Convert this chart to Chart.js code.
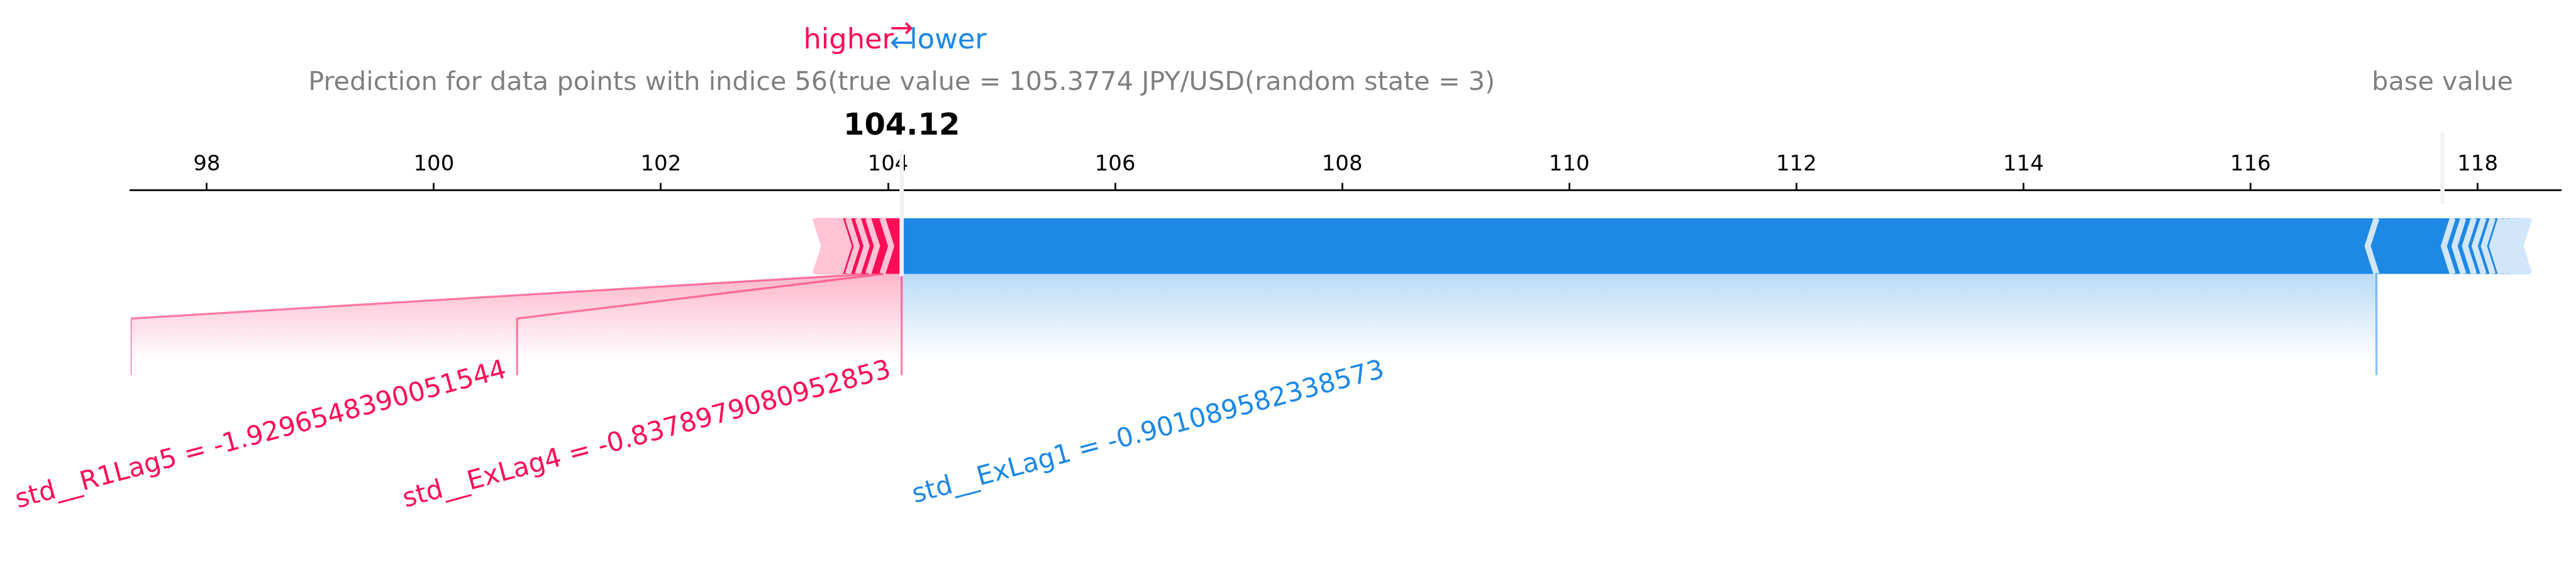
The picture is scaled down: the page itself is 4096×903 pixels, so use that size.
<!DOCTYPE html>
<html>
<head>
<meta charset="utf-8">
<script src="https://cdn.jsdelivr.net/npm/chart.js@4.4.1/dist/chart.umd.min.js"></script>
<style>
  html, body { margin: 0; padding: 0; background: #fff; }
  #wrap { width: 4096px; height: 903px; }
</style>
</head>
<body>
<div id="wrap"><canvas id="forceChart" width="4096" height="903"></canvas></div>
<script>
// model output and base value (JPY/USD)
var outValue = 104.12;
var baseValue = 117.69;

// cumulative bounds of the red (positive) features, going left from the output value
var posBounds = [103.950, 103.825, 103.734, 103.647, 103.576, 103.540, 103.505, 103.469, 103.430, 103.391, 103.359];
// cumulative bounds of the blue (negative) features, going right from the output value
var negBounds = [117.109, 117.780, 117.874, 117.967, 118.052, 118.133, 118.205, 118.256, 118.304, 118.343, 118.383, 118.422, 118.455];

// labelled features and where their guide lines come down
var posLabels = ['std__ExLag4 = -0.8378979080952853', 'std__R1Lag5 = -1.9296548390051544'];
var posLabelEnds = [100.733, 97.33];
var negLabels = ['std__ExLag1 = -0.901089582338573'];
var negLabelEnds = [117.109];

var tickValues = [98, 100, 102, 104, 106, 108, 110, 112, 114, 116, 118];
var xMin = 97.33, xMax = 118.735;

var titleText = 'Prediction for data points with indice 56(true value = 105.3774 JPY/USD(random state = 3)';

var RED = '#FF0D57', RED_LIGHT = '#FFC3D5';
var BLUE = '#1E88E5', BLUE_LIGHT = '#D1E6FA';
var barWidth = 0.1;
var sepIndent = 0.078;
var offsetText = 0.07;
var FONT = '"DejaVu Sans"';

// separators between features
var datasets = [];
negBounds.forEach(function (p) {
  datasets.push({ data: [{x: p, y: 0}, {x: p - sepIndent, y: barWidth / 2}, {x: p, y: barWidth}],
    borderColor: BLUE_LIGHT, borderWidth: 9.5, borderJoinStyle: 'miter', borderCapStyle: 'butt' });
});
posBounds.forEach(function (p) {
  datasets.push({ data: [{x: p, y: 0}, {x: p + sepIndent, y: barWidth / 2}, {x: p, y: barWidth}],
    borderColor: RED_LIGHT, borderWidth: 9.5, borderJoinStyle: 'miter', borderCapStyle: 'butt' });
});

// guide lines to the labels
var lineStyle = { borderWidth: 3.4, borderJoinStyle: 'round', borderCapStyle: 'square' };
datasets.push(Object.assign({ data: [{x: outValue, y: 0}, {x: outValue, y: -0.18}], borderColor: 'rgba(255,13,87,0.5)' }, lineStyle));
posLabels.forEach(function (t, i) {
  datasets.push(Object.assign({ data: [{x: posBounds[i], y: 0}, {x: posLabelEnds[i], y: -0.08}, {x: posLabelEnds[i], y: -0.18}],
    borderColor: 'rgba(255,13,87,0.5)' }, lineStyle));
});
negLabels.forEach(function (t, i) {
  datasets.push(Object.assign({ data: [{x: negBounds[i], y: 0}, {x: negLabelEnds[i], y: -0.08}, {x: negLabelEnds[i], y: -0.18}],
    borderColor: 'rgba(30,136,229,0.5)' }, lineStyle));
});

// base value and output value markers
datasets.push({ data: [{x: baseValue, y: 0.13}, {x: baseValue, y: 0.25}], borderColor: '#F2F2F2', borderWidth: 6.8, borderCapStyle: 'square', clip: false });
datasets.push({ data: [{x: outValue, y: 0}, {x: outValue, y: 0.24}], borderColor: '#F2F2F2', borderWidth: 6.8, borderCapStyle: 'square', clip: false });

datasets.forEach(function (d, i) {
  d.order = -i;
  d.fill = false;
  d.pointRadius = 0;
  d.tension = 0;
});

function polygon(chart, pts, fill) {
  var c = chart.ctx, xs = chart.scales.x, ys = chart.scales.y;
  c.beginPath();
  pts.forEach(function (p, i) {
    var px = xs.getPixelForValue(p[0]), py = ys.getPixelForValue(p[1]);
    if (i === 0) c.moveTo(px, py); else c.lineTo(px, py);
  });
  c.closePath();
  c.fillStyle = fill;
  c.fill();
}

function segmentPoints(left, right, first, positive) {
  var w = barWidth, m = barWidth / 2;
  if (positive) {
    if (first) return [[left, 0], [right, 0], [right, w], [left, w], [left + sepIndent, m]];
    return [[left, 0], [right, 0], [right + sepIndent * 0.9, m], [right, w], [left, w], [left + sepIndent * 0.9, m]];
  }
  if (first) return [[right, 0], [left, 0], [left, w], [right, w], [right - sepIndent, m]];
  return [[left, 0], [right, 0], [right - sepIndent * 0.9, m], [right, w], [left, w], [left - sepIndent * 0.9, m]];
}

function shading(chart, rgb, preVal, boxEnd) {
  var ys = chart.scales.y;
  var g = chart.ctx.createLinearGradient(0, ys.getPixelForValue(0), 0, ys.getPixelForValue(-0.155));
  g.addColorStop(0, 'rgba(' + rgb + ',0.3)');
  g.addColorStop(1, 'rgba(' + rgb + ',0)');
  polygon(chart, [[outValue, 0], [preVal, 0], [boxEnd, -0.08], [boxEnd, -0.2], [outValue, -0.2]], g);
}

var barPlugin = {
  id: 'forceBars',
  beforeDatasetsDraw: function (chart) {
    var c = chart.ctx;
    c.save();
    shading(chart, '255,13,87', posBounds[posLabels.length - 1], posLabelEnds[posLabels.length - 1]);
    shading(chart, '30,136,229', negBounds[negLabels.length - 1], negLabelEnds[negLabels.length - 1]);
    negBounds.forEach(function (p, i) {
      var left = i === 0 ? outValue : negBounds[i - 1];
      polygon(chart, segmentPoints(left, p, i === 0, false), BLUE);
    });
    posBounds.forEach(function (p, i) {
      var right = i === 0 ? outValue : posBounds[i - 1];
      polygon(chart, segmentPoints(p, right, i === 0, true), RED);
    });
    c.restore();
  }
};

function rotatedLabel(c, text, px, py, alignRight, color) {
  var F = 41.8, th = 15 * Math.PI / 180;
  c.font = F + 'px ' + FONT;
  var W = c.measureText(text).width;
  var H = 0.968 * F, d = 0.208 * F;
  var ox = alignRight ? px - W * Math.cos(th) : px + H * Math.sin(th);
  var oy = py + W * Math.sin(th) + H * Math.cos(th);
  c.save();
  c.translate(ox, oy);
  c.rotate(-th);
  c.fillStyle = color;
  c.textAlign = 'left';
  c.textBaseline = 'alphabetic';
  c.fillText(text, 0, -d);
  c.restore();
}

var textPlugin = {
  id: 'forceText',
  afterDraw: function (chart) {
    var c = chart.ctx, xs = chart.scales.x, ys = chart.scales.y;
    var xo = xs.getPixelForValue(outValue);
    c.save();
    c.textBaseline = 'alphabetic';

    // higher / lower legend
    c.font = '44.8px ' + FONT;
    c.fillStyle = RED; c.textAlign = 'right';
    c.fillText('higher', xs.getPixelForValue(outValue - offsetText), ys.getPixelForValue(0.405));
    c.fillStyle = BLUE; c.textAlign = 'left';
    c.fillText('lower', xs.getPixelForValue(outValue + offsetText), ys.getPixelForValue(0.405));
    c.textAlign = 'center';
    c.fillStyle = BLUE;
    c.fillText('\u2190', xo, ys.getPixelForValue(0.4));
    c.fillStyle = RED;
    c.fillText('\u2192', xo, ys.getPixelForValue(0.425));

    // title and base value
    c.font = '41.4px ' + FONT;
    c.fillStyle = 'rgba(0,0,0,0.5)';
    c.fillText(titleText, xo, ys.getPixelForValue(0.33));
    c.fillText('base value', xs.getPixelForValue(baseValue), ys.getPixelForValue(0.33));

    // output value with white box
    c.font = 'bold 48px ' + FONT;
    var label = outValue.toFixed(2);
    var w = c.measureText(label).width, yb = ys.getPixelForValue(0.25), pad = 14.4;
    c.fillStyle = '#fff';
    c.fillRect(xo - w / 2 - pad, yb - 0.76 * 48 - pad, w + 2 * pad, 0.968 * 48 + 2 * pad);
    c.fillStyle = '#000';
    c.fillText(label, xo, yb);

    // feature labels
    var yl = ys.getPixelForValue(-0.15);
    posLabels.forEach(function (t, i) {
      var start = i === 0 ? outValue : posLabelEnds[i - 1];
      rotatedLabel(c, t, xs.getPixelForValue(start - offsetText), yl, true, RED);
    });
    negLabels.forEach(function (t, i) {
      var start = i === 0 ? outValue : negLabelEnds[i - 1];
      rotatedLabel(c, t, xs.getPixelForValue(start + offsetText), yl, false, BLUE);
    });
    c.restore();
  }
};

var ctx = document.getElementById('forceChart').getContext('2d');
var forceChart = new Chart(ctx, {
  type: 'line',
  data: { datasets: datasets },
  options: {
    responsive: false,
    devicePixelRatio: 1,
    animation: false,
    events: [],
    layout: { padding: { left: 207.8, right: 23.7, top: 0, bottom: 24.9 } },
    plugins: { legend: { display: false }, tooltip: { enabled: false } },
    scales: {
      x: {
        type: 'linear',
        position: 'top',
        min: xMin,
        max: xMax,
        afterFit: function (s) { s.height = 302.8; },
        afterBuildTicks: function (s) { s.ticks = tickValues.map(function (v) { return { value: v }; }); },
        ticks: {
          font: { family: 'DejaVu Sans', size: 34, lineHeight: 1.2 },
          color: '#000',
          padding: 8,
          maxRotation: 0,
          autoSkip: false,
          callback: function (v) { return String(v); }
        },
        grid: { drawOnChartArea: false, drawTicks: true, tickLength: 12, tickWidth: 2.7, tickColor: '#000' },
        border: { display: true, color: '#000', width: 2.7 }
      },
      y: { type: 'linear', display: false, min: -0.5, max: 0.15 }
    }
  },
  plugins: [barPlugin, textPlugin]
});
</script>
</body>
</html>
